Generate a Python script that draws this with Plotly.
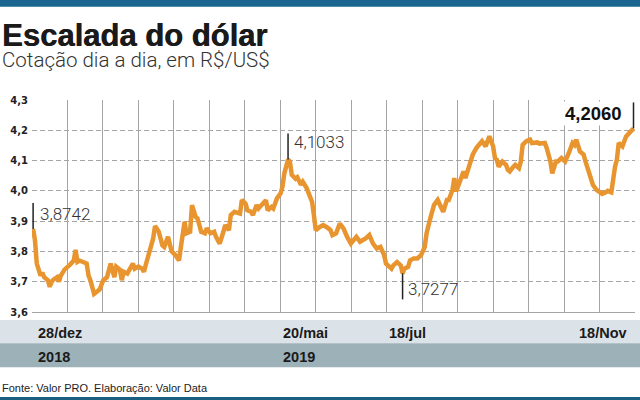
import plotly.graph_objects as go

# --- Dados: cotação R$/US$ (dias desde 28/dez/2018) ---
dias = [
    0, 1, 2, 4, 5, 6, 8, 9, 10, 11,
    13, 14, 15, 17, 20, 22, 23, 24, 25, 27,
    29, 30, 31, 33, 34, 36, 38, 40, 42, 44,
    45, 47, 48, 49, 51, 54, 55, 57, 59, 60,
    61, 63, 65, 66, 68, 70, 71, 73, 75, 77,
    79, 80, 82, 83, 85, 86, 88, 89, 91, 93,
    94, 96, 98, 99, 101, 103, 104, 106, 107, 109,
    111, 112, 113, 115, 116, 118, 119, 121, 122, 124,
    126, 127, 129, 130, 132, 134, 135, 136, 138, 139,
    140, 142, 143, 145, 146, 148, 150, 151, 152, 153,
    155, 157, 159, 161, 162, 164, 166, 168, 170, 172,
    175, 177, 180, 182, 184, 186, 188, 190, 191, 194,
    195, 197, 199, 200, 201, 203, 204, 206, 208, 210,
    212, 213, 215, 217, 219, 221, 222, 224, 225, 227,
    228, 229, 231, 233, 234, 236, 238, 240, 242, 243,
    245, 246, 247, 249, 250, 251, 252, 254, 256, 257,
    258, 260, 261, 263, 264, 265, 267, 269, 270, 273,
    274, 277, 278, 280, 281, 283, 284, 286, 288, 290,
    292, 293, 294, 296, 298, 299, 301, 302, 303, 305,
    307, 308, 310, 311, 313, 314, 315, 316, 317, 319,
    320, 321, 323, 325,
]
cotacao = [
    3.8742, 3.837, 3.76, 3.72, 3.73, 3.715, 3.705, 3.683, 3.70, 3.707,
    3.715, 3.70, 3.72, 3.74, 3.756, 3.77, 3.805, 3.766, 3.77, 3.766,
    3.76, 3.72, 3.705, 3.66, 3.666, 3.674, 3.705, 3.715, 3.76, 3.715,
    3.75, 3.74, 3.705, 3.733, 3.727, 3.76, 3.743, 3.75, 3.743, 3.733,
    3.756, 3.805, 3.843, 3.884, 3.865, 3.82, 3.815, 3.848, 3.80, 3.788,
    3.77, 3.815, 3.898, 3.86, 3.865, 3.953, 3.914, 3.909, 3.865, 3.86,
    3.876, 3.86, 3.865, 3.848, 3.826, 3.865, 3.887, 3.87, 3.92, 3.931,
    3.928, 3.925, 3.97, 3.958, 3.936, 3.931, 3.92, 3.953, 3.942, 3.958,
    3.969, 3.936, 3.947, 3.942, 3.975, 3.992, 4.014, 4.058, 4.1033, 4.097,
    4.053, 4.04, 4.045, 4.02, 4.03, 4.01, 3.975, 3.964, 3.92, 3.87,
    3.88, 3.887, 3.88, 3.87, 3.854, 3.86, 3.892, 3.876, 3.848, 3.826,
    3.848, 3.832, 3.843, 3.854, 3.826, 3.81, 3.815, 3.788, 3.76, 3.743,
    3.754, 3.765, 3.754, 3.7277, 3.743, 3.749, 3.77, 3.777, 3.777, 3.788,
    3.815, 3.86, 3.909, 3.953, 3.97, 3.942, 3.931, 3.97, 3.97, 4.003,
    4.042, 3.998, 4.036, 4.064, 4.042, 4.08, 4.12, 4.142, 4.158, 4.164,
    4.147, 4.169, 4.18, 4.147, 4.108, 4.103, 4.08, 4.097, 4.086, 4.069,
    4.064, 4.08, 4.086, 4.075, 4.097, 4.152, 4.164, 4.169, 4.158, 4.16,
    4.156, 4.158, 4.142, 4.097, 4.058, 4.097, 4.097, 4.108, 4.097, 4.125,
    4.158, 4.152, 4.169, 4.13, 4.12, 4.097, 4.053, 4.042, 4.02, 4.003,
    3.995, 3.99, 3.995, 4.0, 3.995, 4.042, 4.08, 4.103, 4.158, 4.147,
    4.164, 4.18, 4.193, 4.2060,
]
datas_rotulo = ["28/dez", "20/mai", "18/jul", "18/Nov"]
anos_rotulo = ["2018", "2019"]
yticks = [3.6, 3.7, 3.8, 3.9, 4.0, 4.1, 4.2, 4.3]

# --- Layout ---
W, H = 640, 400
ML, MR, MT, MB = 32, 5, 100, 88
LARANJA = "#e8952f"
LEVE = "Roboto, Liberation Sans, sans-serif"
SANS = "Liberation Sans, Arial, sans-serif"


def px(xp):
    return (xp - ML) / (W - ML - MR)


def py(yp):
    return (H - MB - yp) / (H - MT - MB)


def br(v):
    return f"{v:.4f}".replace(".", ",")


fig = go.Figure()
fig.add_trace(go.Scatter(
    x=dias, y=cotacao, mode="lines",
    line=dict(color=LARANJA, width=4.5),
    hoverinfo="skip", showlegend=False,
))

i_max = cotacao.index(max(cotacao[:100]))
i_min = cotacao.index(min(cotacao[100:]))
destaques = [
    (0, 1, dict(xanchor="left", xshift=5, yshift=15), False),
    (i_max, 1, dict(xanchor="left", xshift=4, yshift=18), False),
    (i_min, -1, dict(xanchor="left", xshift=3, yshift=-16), False),
    (len(cotacao) - 1, 1, dict(xanchor="right", xshift=-10, yshift=15), True),
]

shapes = []
annotations = []
for i, sentido, pos, negrito in destaques:
    x, v = dias[i], cotacao[i]
    shapes.append(dict(type="line", xref="x", yref="y", x0=x, x1=x,
                       y0=v, y1=v + sentido * 0.086,
                       line=dict(color="#222", width=1.5)))
    annotations.append(dict(
        x=x, y=v, xref="x", yref="y", text=br(v), showarrow=False,
        yanchor="middle", bgcolor="white" if negrito else None, borderpad=1,
        font=dict(family=SANS if negrito else LEVE, size=18.5 if negrito else 17,
                  color="#111" if negrito else "#333",
                  weight="bold" if negrito else 300),
        **pos,
    ))

# faixas inferiores e barras azuis
shapes += [
    dict(type="rect", xref="paper", yref="paper", x0=px(0), x1=px(W),
         y0=py(320), y1=py(343.3), fillcolor="#dce3e8", line_width=0, layer="below"),
    dict(type="rect", xref="paper", yref="paper", x0=px(0), x1=px(W),
         y0=py(343.3), y1=py(367.3), fillcolor="#9db1b9", line_width=0, layer="below"),
    dict(type="rect", xref="paper", yref="paper", x0=px(0), x1=px(W),
         y0=py(0), y1=py(6.7), fillcolor="#1b6690", line_width=0),
    dict(type="rect", xref="paper", yref="paper", x0=px(0), x1=px(W),
         y0=py(397), y1=py(400), fillcolor="#1b5f80", line_width=0),
]

rotulo_font = dict(family=SANS, size=14.5, color="#1a1a1a", weight="bold")
for txt, xp, anc in zip(datas_rotulo, [36, 281, 387, 629], ["left", "left", "left", "right"]):
    annotations.append(dict(x=px(xp), y=py(332.5), xref="paper", yref="paper", text=txt,
                            showarrow=False, xanchor=anc, yanchor="middle", font=rotulo_font))
for txt, xp in zip(anos_rotulo, [36, 281]):
    annotations.append(dict(x=px(xp), y=py(356.5), xref="paper", yref="paper", text=txt,
                            showarrow=False, xanchor="left", yanchor="middle", font=rotulo_font))

annotations += [
    dict(x=px(0), y=py(35), xref="paper", yref="paper", text="Escalada do dólar",
         showarrow=False, xanchor="left", yanchor="middle",
         font=dict(family=SANS, size=31, color="#1a1a1a", weight="bold",
                   shadow="0.6px 0 0 #1a1a1a")),
    dict(x=px(0), y=py(60), xref="paper", yref="paper", text="Cotação dia a dia, em R$/US$",
         showarrow=False, xanchor="left", yanchor="middle",
         font=dict(family=LEVE, size=20.5, color="#333", weight=300)),
    dict(x=px(0), y=py(387.5), xref="paper", yref="paper",
         text="Fonte: Valor PRO. Elaboração: Valor Data",
         showarrow=False, xanchor="left", yanchor="middle",
         font=dict(family=SANS, size=11, color="#222")),
]

x0 = -0.6
passo = 19.2
fig.update_layout(
    width=W, height=H,
    margin=dict(l=ML, r=MR, t=MT, b=MB, pad=0),
    paper_bgcolor="white", plot_bgcolor="white",
    separators=",.",
    shapes=shapes, annotations=annotations,
    xaxis=dict(range=[x0, x0 + 17 * passo + 0.01], tick0=x0, dtick=passo,
               showticklabels=False, ticks="", showgrid=True,
               gridcolor="#a5a5a5", gridwidth=1.2, zeroline=False,
               showline=True, linecolor="#a5a5a5", linewidth=1.2),
    yaxis=dict(range=[3.6, 4.3], tickvals=yticks, tickformat=".1f",
               ticks="", ticklabelstandoff=3, showgrid=True,
               gridcolor="#a5a5a5", gridwidth=1, griddash="5px,3px", zeroline=False,
               tickfont=dict(family="DejaVu Sans", size=10, color="#222", weight="bold")),
)

# a página padrão tem margem de 8px no body; zera para o gráfico ocupar a janela toda
fig.write_html("out.html", config={"displayModeBar": False},
               post_script="document.body.style.margin='0';")
